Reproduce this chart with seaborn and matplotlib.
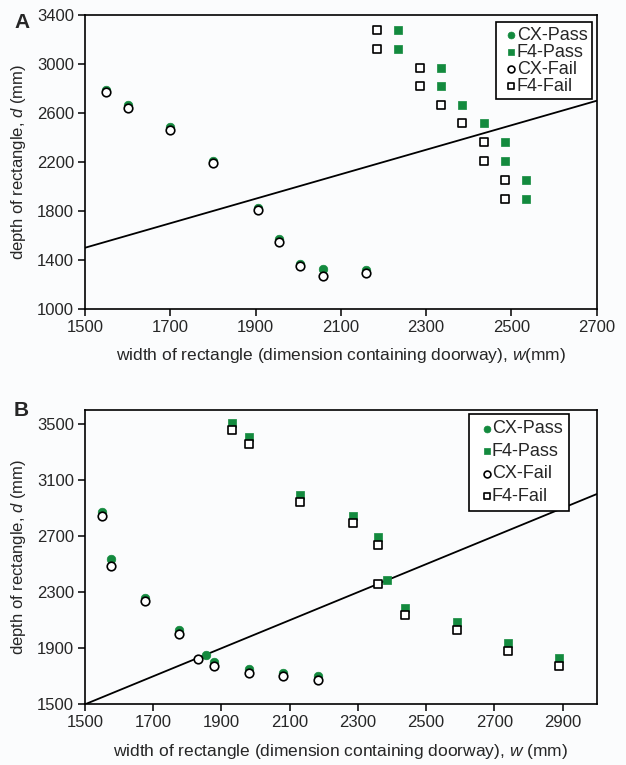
import matplotlib
matplotlib.use("Agg")
import matplotlib.pyplot as plt
import seaborn as sns

# ---- Panel A data ----
a_cx_w = [1550, 1600, 1700, 1800, 1905, 1955, 2005, 2057, 2160]
a_cx_pass = [2790, 2665, 2485, 2210, 1825, 1570, 1370, 1325, 1320]
a_cx_fail = [2770, 2640, 2460, 2190, 1805, 1550, 1350, 1270, 1295]

a_f4_fail_w = [2185, 2185, 2285, 2285, 2335, 2385, 2435, 2435, 2485, 2485]
a_f4_pass_w = [2235, 2235, 2335, 2335, 2385, 2435, 2485, 2485, 2535, 2535]
a_f4_d = [3275, 3120, 2970, 2820, 2665, 2515, 2360, 2210, 2055, 1900]

# ---- Panel B data ----
b_cx_pass_w = [1550, 1575, 1675, 1777, 1855, 1878, 1980, 2080, 2182]
b_cx_pass = [2870, 2540, 2260, 2030, 1850, 1800, 1750, 1725, 1700]
b_cx_fail_w = [1550, 1575, 1675, 1777, 1830, 1878, 1980, 2080, 2182]
b_cx_fail = [2845, 2490, 2235, 2005, 1825, 1775, 1725, 1700, 1675]

b_f4_pass_w = [1930, 1980, 2130, 2285, 2360, 2385, 2437, 2590, 2740, 2890]
b_f4_pass = [3505, 3405, 2995, 2845, 2695, 2385, 2185, 2085, 1935, 1830]
b_f4_fail_w = [1930, 1980, 2130, 2285, 2360, 2360, 2437, 2590, 2740, 2890]
b_f4_fail = [3455, 3355, 2945, 2795, 2640, 2360, 2135, 2030, 1880, 1775]

sns.set_style("ticks")
plt.rcParams['font.family'] = ['Liberation Sans', 'DejaVu Sans']
plt.rcParams['mathtext.fontset'] = 'custom'
plt.rcParams['mathtext.it'] = 'Liberation Sans:italic'
plt.rcParams['mathtext.rm'] = 'Liberation Sans'

GREEN = "#138a3e"
BG = "#fbfcfd"

fig = plt.figure(figsize=(6.26, 7.65), dpi=100, facecolor=BG)
axA = fig.add_axes([85 / 626, 1 - 309 / 765, 511.7 / 626, 294 / 765])
axB = fig.add_axes([85 / 626, 1 - 704.3 / 765, 511.7 / 626, 294.3 / 765])


def draw(ax, cxp_w, cxp, f4p_w, f4p, cxf_w, cxf, f4f_w, f4f):
    sns.scatterplot(x=cxp_w, y=cxp, ax=ax, marker="o", s=38, color=GREEN,
                    edgecolor=GREEN, linewidth=0.5, label="CX-Pass", zorder=3)
    sns.scatterplot(x=f4p_w, y=f4p, ax=ax, marker="s", s=30, color=GREEN,
                    edgecolor=GREEN, linewidth=0.5, label="F4-Pass", zorder=3)
    sns.scatterplot(x=cxf_w, y=cxf, ax=ax, marker="o", s=38, color="white",
                    edgecolor="black", linewidth=1.2, label="CX-Fail", zorder=4)
    sns.scatterplot(x=f4f_w, y=f4f, ax=ax, marker="s", s=26, color="white",
                    edgecolor="black", linewidth=1.2, label="F4-Fail", zorder=4)


draw(axA, a_cx_w, a_cx_pass, a_f4_pass_w, a_f4_d, a_cx_w, a_cx_fail, a_f4_fail_w, a_f4_d)
draw(axB, b_cx_pass_w, b_cx_pass, b_f4_pass_w, b_f4_pass, b_cx_fail_w, b_cx_fail,
     b_f4_fail_w, b_f4_fail)

# d = w reference lines
axA.plot([1500, 2700], [1500, 2700], color="black", lw=1.3, zorder=2)
axB.plot([1500, 3000], [1500, 3000], color="black", lw=1.3, zorder=2)

axA.set_xlim(1500, 2700)
axA.set_ylim(1000, 3400)
axA.set_xticks(range(1500, 2701, 200))
axA.set_yticks(range(1000, 3401, 400))

axB.set_xlim(1500, 3000)
axB.set_ylim(1500, 3600)
axB.set_xticks(range(1500, 2901, 200))
axB.set_yticks(range(1500, 3501, 400))

for ax in (axA, axB):
    ax.set_facecolor(BG)
    for sp in ax.spines.values():
        sp.set_visible(True)
        sp.set_color("black")
        sp.set_linewidth(1.2)
    ax.tick_params(axis="both", labelsize=12, length=5, width=1.1, color="black",
                   direction="out", pad=3)
    ax.set_ylabel("depth of rectangle, $d$ (mm)", fontsize=12, labelpad=6)

axA.set_xlabel("width of rectangle (dimension containing doorway), $w$(mm)",
               fontsize=12.5, labelpad=8)
axB.set_xlabel("width of rectangle (dimension containing doorway), $w$ (mm)",
               fontsize=12.5, labelpad=8)

legA = axA.legend(loc="upper right", bbox_to_anchor=(0.991, 0.976), fontsize=13,
                  frameon=True, fancybox=False, edgecolor="black", framealpha=1,
                  handletextpad=-0.3, handlelength=1.2, labelspacing=0.0,
                  borderpad=0.25, borderaxespad=0, markerscale=0.8)
legB = axB.legend(loc="upper right", bbox_to_anchor=(0.946, 0.986), fontsize=13,
                  frameon=True, fancybox=False, edgecolor="black", framealpha=1,
                  handletextpad=-0.3, handlelength=1.2, labelspacing=0.3,
                  borderpad=0.35, borderaxespad=0, markerscale=0.8)
for leg in (legA, legB):
    leg.get_frame().set_linewidth(1.2)

fig.text(14 / 626, 1 - 22 / 765, "A", fontsize=15, fontweight="bold", va="center")
fig.text(14 / 626, 1 - 410 / 765, "B", fontsize=15, fontweight="bold", va="center")

fig.savefig("out.png", dpi=100, facecolor=BG)
